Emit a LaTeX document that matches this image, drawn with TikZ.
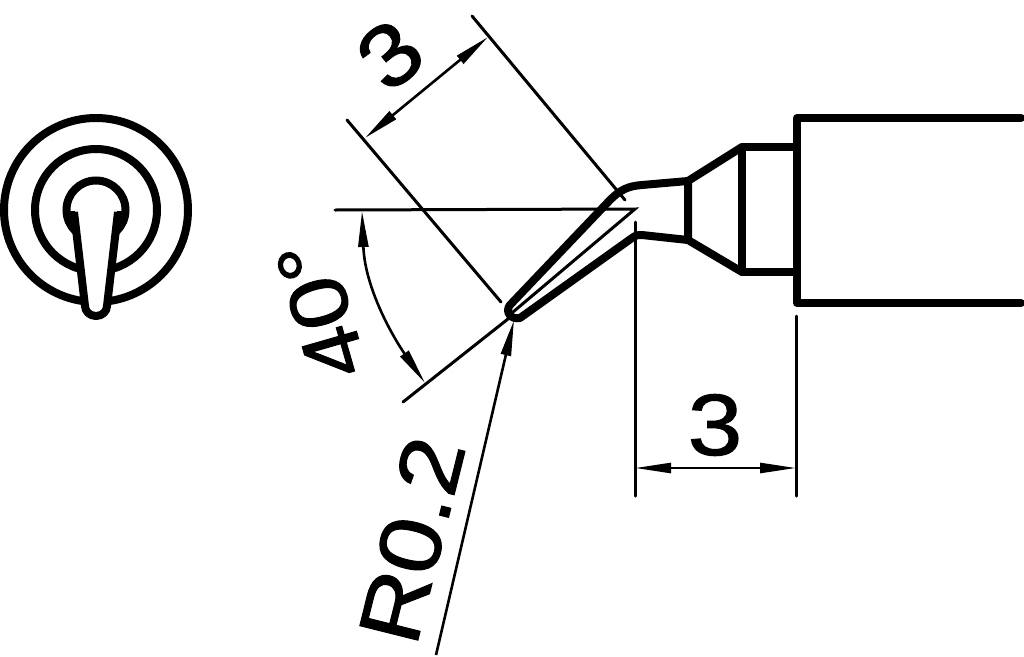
\documentclass[tikz,border=0pt]{standalone}
\usepackage{fontspec}
\setmainfont{Liberation Sans}[FakeBold=1.2,FakeStretch=1.13,AutoFakeBold=1.2]
\usetikzlibrary{arrows.meta}
\tikzset{
  thick outline/.style={line width=8pt, line join=round, line cap=round},
  thin line/.style={line width=3pt, line cap=round},
  dim line/.style={line width=2.6pt, {Triangle[length=36pt,width=10pt]}-{Triangle[length=36pt,width=10pt]}},
  dim text/.style={font=\fontsize{87}{87}\selectfont\bfseries, inner sep=0pt}
}
\begin{document}
\begin{tikzpicture}[x=1pt,y=-1pt]
 \useasboundingbox (0,0) rectangle (1024,656);
 % end view
 \draw [line width=8pt] (96,210) circle (92);
 \draw [line width=8pt] (96,210) circle (61);
 \draw [line width=8pt] (96,210) circle (29.5);
 \fill (69,211) -- (75,211) -- (80,236) -- (70,230) -- cycle;
 \fill (123,211) -- (117,211) -- (112,236) -- (122,230) -- cycle;
 \fill [white] (74,212) -- (86,308) arc (180:0:10.5) -- (118,212) -- cycle;
 \draw [thick outline, line cap=butt] (74,212) -- (85,306) arc (180:0:11 and 10) -- (118,212);
 % tip
 \draw [thick outline] (1021,118) -- (797,118) -- (797,303) -- (1021,303);
 \draw [thick outline] (797,147) -- (742,147) -- (742,272) -- (797,272);
 \draw [thick outline] (688,181) -- (742,147);
 \draw [thick outline] (688,240) -- (742,272);
 \draw [thick outline] (688,181) -- (642,185) .. controls (628,186) and (620,190) .. (610,200)
   -- (510,305) .. controls (505,311) and (510,320) .. (520,318) -- (632,238) .. controls (636,235) and (638,235) .. (642,235) -- (688,240) -- cycle;
 % centre and extension lines
 \coordinate (tipcentre) at (513,312);
 \coordinate (horizend) at (635,209);
 \coordinate (horizstart) at (335,210);
 \draw [thin line] (tipcentre) -- (horizend) -- (horizstart);
 \draw [thin line] (472,16) -- (625,200);
 \draw [thin line] (347,120) -- (501,302);
 \draw [thin line] (403,402) -- (513,315);
 \draw [thin line] (635,222) -- (635,496);
 \draw [thin line] (796,316) -- (796,496);
 % dimensions
 \coordinate (topa) at (365,138);
 \coordinate (topb) at (488,37);
 \draw [dim line] (topa) -- (topb);
 \coordinate (righta) at (635,468);
 \coordinate (rightb) at (796,468);
 \draw [dim line] (righta) -- (rightb);
 \coordinate (arca) at (362,211);
 \coordinate (arcb) at (425,383);
 \draw [dim line] (arca) .. controls (365,290) and (395,340) .. (arcb);
 \coordinate (leaderend) at (436,655);
 \coordinate (leadertip) at (514,320);
 \draw [line width=2.6pt, -{Triangle[length=36pt,width=10pt]}] (leaderend) -- (leadertip);
 % labels
 \node [dim text] (lengthtop) at (390,55) [rotate=40] {3};
 \node [dim text] (lengthright) at (715,425) {3};
 \node [dim text, font=\fontsize{82}{82}\selectfont\bfseries] (angle) at (321,310) [rotate=106] {40°};
 \node [dim text] (radius) at (412,540) [rotate=76] {R0.2};
\end{tikzpicture}
\end{document}
